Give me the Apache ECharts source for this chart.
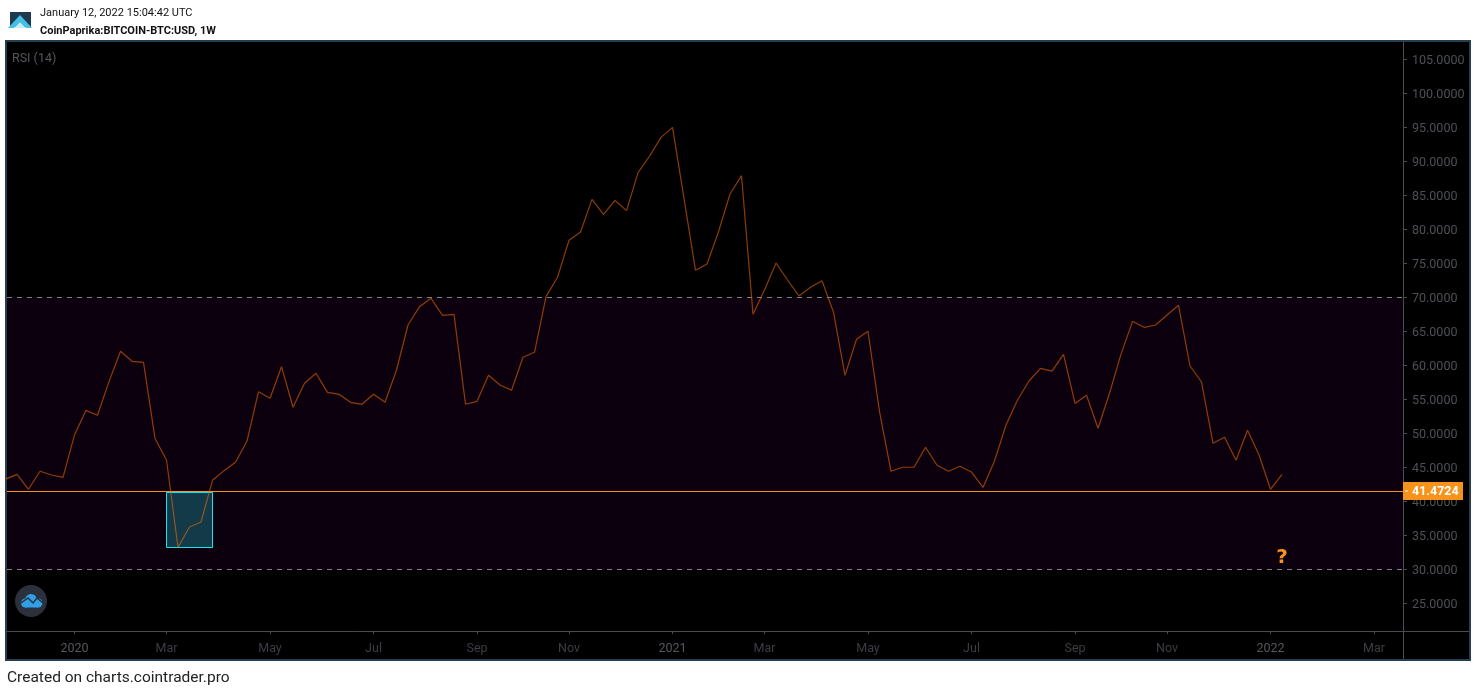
<!DOCTYPE html>
<html style="height: 100%">
  <head>
    <meta charset="utf-8" />
  </head>
  <body style="height: 100%; margin: 0; background: #fff">
    <div id="container" style="width: 1476px; height: 691px"></div>
    <script src="https://cdn.jsdelivr.net/npm/echarts@6/dist/echarts.min.js"></script>
    <script>
      // weekly RSI(14)
      const rsiValues = [
        43.2, 43.92, 41.72, 44.37, 43.82, 43.48, 49.71, 53.33, 52.6, 57.55, 62.01, 60.54, 60.39, 49.2,
        46.03, 33.18, 36.18, 36.91, 43.04, 44.46, 45.69, 48.82, 56.07, 55.1, 59.75, 53.78, 57.31, 58.78,
        55.98, 55.69, 54.51, 54.22, 55.69, 54.51, 59.26, 65.88, 68.58, 69.8, 67.3, 67.45, 54.22, 54.66,
        58.48, 57.06, 56.28, 61.13, 61.87, 70.05, 72.9, 78.34, 79.56, 84.36, 82.16, 84.2, 82.7, 88.3,
        90.7, 93.48, 94.95, 84.5, 73.92, 74.85, 79.6, 85.15, 87.84, 67.45, 71.03, 75, 72.5, 70.15,
        71.42, 72.4, 67.75, 58.48, 63.78, 64.95, 53.14, 44.37, 44.96, 44.96, 47.9, 45.25, 44.37, 45.1,
        44.26, 42.0, 45.88, 51.18, 54.85, 57.65, 59.5, 59.1, 61.57, 54.35, 55.54, 50.69, 55.84, 61.6,
        66.42, 65.54, 65.88, 67.35, 68.78, 59.85, 57.5, 48.48, 49.37, 45.98, 50.4, 46.76, 41.72, 43.92,
      ];
      const firstWeek = "2019-11-25";
      const xTickDates = [
        "2020-01-06", "2020-03-02", "2020-05-04", "2020-07-06", "2020-09-07", "2020-11-02", "2021-01-04",
        "2021-03-01", "2021-05-03", "2021-07-05", "2021-09-06", "2021-11-01", "2022-01-03", "2022-03-07",
      ];
      const xTickLabels = ["2020", "Mar", "May", "Jul", "Sep", "Nov", "2021", "Mar", "May", "Jul", "Sep", "Nov", "2022", "Mar"];
      const yTicks = [25, 30, 35, 40, 45, 50, 55, 60, 65, 70, 75, 80, 85, 90, 95, 100, 105];
      const lastPrice = 41.4724;
      const bandTop = 70;
      const bandBottom = 30;
      const boxStart = "2020-03-02";
      const boxEnd = "2020-03-30";
      const boxTop = 41.25;
      const boxBottom = 33.16;
      const questionDate = "2022-01-10";
      const questionValue = 31.6;

      const WEEK = 7 * 24 * 3600 * 1000;
      const toTime = (d) => Date.parse(d + "T00:00:00Z");
      const start = toTime(firstWeek);
      const xTickTimes = xTickDates.map(toTime);
      const lineData = rsiValues.map((v, i) => [start + i * WEEK, v]);

      const FRAME = "#263f50";
      const AXIS = "#4a4c52";
      const FONT = "Roboto, sans-serif";

      var myChart = echarts.init(document.getElementById("container"));

      var option = {
        animation: false,
        backgroundColor: "#fff",
        grid: { left: 7, right: 73, top: 42, bottom: 60 },
        xAxis: {
          type: "value",
          min: start + 0.13 * WEEK,
          max: start + 121.52 * WEEK,
          splitLine: { show: false },
          axisLine: { onZero: false, lineStyle: { color: AXIS } },
          axisTick: { length: 3, lineStyle: { color: AXIS }, customValues: xTickTimes },
          axisLabel: {
            customValues: xTickTimes,
            margin: 11,
            fontFamily: FONT,
            fontSize: 12.5,
            color: "#3c3e45",
            formatter: function (value) {
              var label = xTickLabels[xTickTimes.indexOf(value)];
              return /^\d+$/.test(label) ? "{year|" + label + "}" : label;
            },
            rich: { year: { color: "#55575e", fontFamily: FONT, fontSize: 12.5, fontWeight: "normal" } },
          },
        },
        yAxis: {
          type: "value",
          position: "right",
          min: 20.88,
          max: 107.5,
          splitLine: { show: false },
          axisLine: { show: true, onZero: false, lineStyle: { color: AXIS } },
          axisTick: { show: true, length: 4, lineStyle: { color: AXIS }, customValues: yTicks },
          axisLabel: {
            customValues: yTicks,
            margin: 9,
            formatter: (v) => "{v|" + v.toFixed(4) + "}",
            rich: { v: { color: "#4e5056", fontFamily: FONT, fontSize: 12.5, padding: [3, 0, 0, 0] } },
          },
        },
        series: [
          {
            name: "RSI (14)",
            type: "line",
            data: lineData,
            showSymbol: false,
            symbol: "none",
            z: 5,
            lineStyle: { color: "rgba(255,110,0,0.55)", width: 1.2 },
            markArea: {
              silent: true,
              data: [
                [
                  { yAxis: bandTop, itemStyle: { color: "#0c000f" } },
                  { yAxis: bandBottom },
                ],
                [
                  {
                    xAxis: toTime(boxStart),
                    yAxis: boxTop,
                    itemStyle: { color: "#123a48", borderColor: "#19e3f0", borderWidth: 1 },
                  },
                  { xAxis: toTime(boxEnd), yAxis: boxBottom },
                ],
              ],
            },
            markLine: {
              silent: true,
              symbol: ["none", "none"],
              animation: false,
              data: [
                { yAxis: bandTop, lineStyle: { color: "#808080", type: [5, 5], width: 1 }, label: { show: false } },
                { yAxis: bandBottom, lineStyle: { color: "#808080", type: [5, 5], width: 1 }, label: { show: false } },
                {
                  yAxis: lastPrice,
                  lineStyle: { color: "#f7931a", type: "solid", width: 1 },
                  label: {
                    show: true,
                    position: "end",
                    distance: 0,
                    formatter: "{d|}{t|" + lastPrice.toFixed(4) + "}",
                    backgroundColor: "#f7931a",
                    width: 58,
                    height: 18,
                    lineHeight: 18,
                    align: "left",
                    padding: [0, 0, 0, 2],
                    rich: {
                      d: { width: 3, height: 1, backgroundColor: "#fff" },
                      t: { color: "#fff", fontFamily: FONT, fontSize: 12.5, fontWeight: "bold", padding: [2, 0, 0, 4] },
                    },
                  },
                },
              ],
            },
            markPoint: {
              silent: true,
              symbol: "circle",
              symbolSize: 0,
              data: [
                {
                  coord: [toTime(questionDate), questionValue],
                  label: {
                    show: true,
                    position: "inside",
                    formatter: "?",
                    color: "#f7931a",
                    fontFamily: "DejaVu Sans, sans-serif",
                    fontWeight: "bold",
                    fontSize: 20,
                  },
                },
              ],
            },
          },
        ],
        graphic: [
          { type: "rect", z: -10, shape: { x: 6, y: 41, width: 1464, height: 619 }, style: { fill: "#000", stroke: FRAME, lineWidth: 2 } },
          // right column and bottom strip carry on the axis lines
          { type: "line", z: 1, shape: { x1: 1403.5, y1: 631, x2: 1403.5, y2: 659 }, style: { stroke: AXIS, lineWidth: 1 } },
          { type: "line", z: 1, shape: { x1: 1403, y1: 631.5, x2: 1469, y2: 631.5 }, style: { stroke: AXIS, lineWidth: 1 } },
          // logo
          { type: "rect", shape: { x: 10, y: 12, width: 21, height: 15 }, style: { fill: "#1c3a50" } },
          { type: "polygon", shape: { points: [[8, 28], [20, 15], [32, 28], [26, 28], [20, 22], [14, 28]] }, style: { fill: "#45bfe6" } },
          { type: "polygon", shape: { points: [[14, 28], [20, 22], [26, 28]] }, style: { fill: "#c6edf7" } },
          { type: "text", x: 40, y: 13, style: { text: "January 12, 2022 15:04:42 UTC", fill: "#111", font: "11px " + FONT, textVerticalAlign: "middle" } },
          { type: "text", x: 40, y: 31, style: { text: "CoinPaprika:BITCOIN-BTC:USD, 1W", fill: "#111", font: "bold 11px " + FONT, textVerticalAlign: "middle" } },
          { type: "text", x: 12, y: 59, style: { text: "RSI (14)", fill: "#55575c", font: "12.5px " + FONT, textVerticalAlign: "middle" } },
          { type: "text", x: 7, y: 678, style: { text: "Created on charts.cointrader.pro", fill: "#222", font: "15.5px " + FONT, textVerticalAlign: "middle" } },
          // watermark
          { type: "circle", z: 6, shape: { cx: 31, cy: 601, r: 16 }, style: { fill: "#2c303c" } },
          { type: "circle", z: 7, shape: { cx: 25.5, cy: 603, r: 4.5 }, style: { fill: "#2f9fe8" } },
          { type: "circle", z: 7, shape: { cx: 31, cy: 600, r: 6 }, style: { fill: "#2f9fe8" } },
          { type: "circle", z: 7, shape: { cx: 38, cy: 603, r: 4.5 }, style: { fill: "#2f9fe8" } },
          { type: "rect", z: 7, shape: { x: 25, y: 603, width: 13, height: 4.5 }, style: { fill: "#2f9fe8" } },
          { type: "polyline", z: 8, shape: { points: [[21, 603], [28, 598], [33, 603], [37, 598], [43, 603]] }, style: { stroke: "#2c303c", lineWidth: 1.5, fill: "none" } },
        ],
      };

      myChart.setOption(option);
    </script>
  </body>
</html>
